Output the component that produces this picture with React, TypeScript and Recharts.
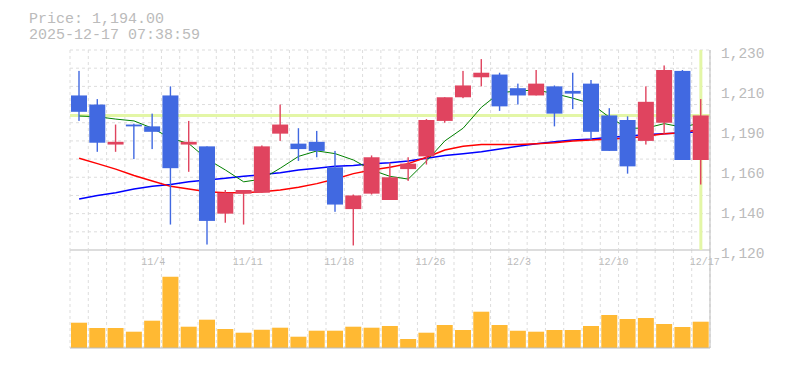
import React from "react";
import {
  Bar,
  BarChart,
  CartesianGrid,
  ComposedChart,
  Line,
  ReferenceLine,
  XAxis,
  YAxis,
} from "recharts";

const dates = [
  "10/28", "10/29", "10/30", "10/31", "11/4", "11/5", "11/6", "11/7", "11/10", "11/11",
  "11/12", "11/13", "11/14", "11/17", "11/18", "11/19", "11/20", "11/21", "11/25", "11/26",
  "11/27", "11/28", "12/1", "12/2", "12/3", "12/4", "12/5", "12/8", "12/9", "12/10",
  "12/11", "12/12", "12/15", "12/16", "12/17",
];
const opens = [
  1205, 1200, 1178, 1189, 1188, 1205, 1178, 1177, 1140, 1151,
  1151.5, 1184, 1178.5, 1179.5, 1165.5, 1142.5, 1151, 1147.5, 1164.5, 1171.5,
  1191, 1204, 1215, 1216.5, 1209, 1205, 1210, 1207.5, 1211.5, 1194,
  1191.5, 1180, 1190, 1218.5, 1169.5,
];
const highs = [
  1218.5, 1203, 1189, 1189.5, 1195, 1210, 1191, 1177, 1153, 1153,
  1177.5, 1200, 1187, 1185.5, 1174.5, 1150.5, 1172, 1168, 1171, 1192,
  1204, 1218.5, 1225, 1217.5, 1211.5, 1219, 1210.5, 1217.5, 1213.5, 1198,
  1193.5, 1210, 1221.5, 1219, 1203,
];
const lows = [
  1191, 1174, 1174, 1170, 1175.5, 1134, 1163, 1123, 1135, 1134,
  1151.5, 1180, 1169, 1171, 1141, 1122.5, 1150.5, 1147.5, 1158, 1167,
  1190, 1203.5, 1210, 1196.5, 1200, 1205, 1188, 1197.5, 1180.5, 1174.5,
  1162, 1178, 1184, 1169.5, 1156,
];
const closes = [
  1196, 1179, 1179.5, 1188, 1185, 1165, 1179.5, 1136, 1151.5, 1153,
  1177, 1189, 1175.5, 1174.5, 1145, 1150, 1171, 1160, 1167.5, 1191.5,
  1204, 1210.5, 1217.5, 1199, 1205, 1211.5, 1195, 1206, 1185, 1174.5,
  1166, 1201.5, 1219, 1169.5, 1194,
];
// moving averages (green = short, red = mid, blue = long)
const maShort = [
  1193.7, 1193.3, 1192, 1191, 1187, 1181.5, 1178.5, 1170, 1164, 1157.5,
  1159, 1165, 1171.5, 1174.5, 1173, 1169.5, 1164, 1160.5, 1159, 1169,
  1180, 1187, 1198.5, 1206.5, 1207.5, 1208, 1206, 1203.5, 1200.5, 1193,
  1187, 1187, 1189.5, 1187.5, 1190,
];
const maMid = [
  1170.5, 1167.5, 1164.5, 1161, 1158, 1155, 1153.5, 1152, 1151.5, 1151.5,
  1152, 1153, 1154.5, 1156.5, 1159, 1162, 1164, 1165.5, 1167.5, 1171,
  1175, 1177, 1178, 1178, 1178, 1178.5, 1179, 1180, 1180.5, 1181,
  1181.5, 1182.5, 1184, 1184.5, 1186.5,
];
const maLong = [
  1148, 1150, 1151.5, 1153.5, 1155, 1156, 1157.5, 1158.5, 1159.5, 1160.5,
  1161.5, 1162.5, 1164, 1165, 1166, 1166.5, 1167.5, 1168, 1169, 1170.5,
  1172, 1173, 1174, 1175.5, 1177, 1178.5, 1179.5, 1180.5, 1181, 1182,
  1182.5, 1183.5, 1184, 1184.5, 1185,
];
const volumes = [
  253, 200, 200, 163, 273, 713, 213, 283, 190, 153,
  183, 203, 113, 173, 173, 213, 203, 220, 90, 153,
  230, 180, 363, 230, 173, 163, 180, 180, 220, 330,
  290, 300, 240, 210, 263,
];
const labelDates = ["11/4", "11/11", "11/18", "11/26", "12/3", "12/10", "12/17"];
const priceTicks = [1120, 1142, 1164, 1186, 1208, 1230];
const lastPrice = 1194;
const lastDate = "12/17";
const stamp = "2025-12-17 07:38:59";

const RED = "#e0445f";
const BLUE = "#4169e1";
const GRID = "#dddddd";
const EDGE = "#bbbbbb";
const TEXT = "#bbbbbb";
const CROSS = "#e3f6a6";
const FONT = "'Liberation Mono', 'DejaVu Sans Mono', monospace";

const rows = dates.map((date, i) => ({
  date,
  open: opens[i],
  high: highs[i],
  low: lows[i],
  close: closes[i],
  range: [lows[i], highs[i]],
  maShort: maShort[i],
  maMid: maMid[i],
  maLong: maLong[i],
  volume: volumes[i],
}));

function Candle(props: any) {
  const { x, y, width, height, payload } = props;
  const { open, close, high, low } = payload;
  const color = close >= open ? RED : BLUE;
  const top = height < 0 ? y + height : y;
  const h = Math.abs(height);
  const ppu = h / (high - low);
  const bodyTop = top + (high - Math.max(open, close)) * ppu;
  const bodyH = Math.max(Math.abs(close - open) * ppu, 1.5);
  const cx = x + width / 2;
  return (
    <g>
      <rect x={cx - 0.7} y={top} width={1.4} height={h} fill={color} />
      <rect x={x} y={bodyTop} width={width} height={bodyH} fill={color} />
    </g>
  );
}

function DateTick({ x, payload }: any) {
  return (
    <text x={x - 11} y={22} dominantBaseline="middle" textAnchor="start" fill={TEXT} fontSize={10} fontFamily={FONT}>
      {payload.value}
    </text>
  );
}

// labels are the 22-yen ticks rounded to the nearest 10
const priceLabel = (v: number) => (Math.round(v / 10) * 10).toLocaleString("en-US");

// grid lines sit on the band edges, one per trading day
const bandEdges = ({ offset }: any) =>
  Array.from({ length: dates.length + 1 }, (_, k) => offset.left + (offset.width * k) / dates.length);
// horizontal grid every 10 yen
const priceSteps = ({ offset }: any) => {
  const n = (priceTicks[priceTicks.length - 1] - priceTicks[0]) / 10;
  return Array.from({ length: n + 1 }, (_, k) => offset.top + (offset.height * k) / n);
};

export default function App() {
  return (
    <div style={{ position: "absolute", left: 0, top: 0, width: 785, height: 370, background: "#fff" }}>
      <svg width={300} height={45} style={{ position: "absolute", left: 0, top: 0 }}>
        <text x={29} y={23} fill={TEXT} fontSize={15} fontFamily={FONT}>
          Price: {lastPrice.toLocaleString("en-US", { minimumFractionDigits: 2 })}
        </text>
        <text x={29} y={38.5} fill={TEXT} fontSize={15} fontFamily={FONT}>
          {stamp}
        </text>
      </svg>

      <div style={{ position: "absolute", left: 0, top: 240 }}>
        <BarChart width={785} height={110} data={rows} margin={{ top: 9, right: 0, bottom: 2, left: 70 }}>
          <CartesianGrid stroke={GRID} strokeDasharray="3 3" horizontal={false} verticalCoordinatesGenerator={bandEdges} />
          <XAxis
            dataKey="date"
            orientation="top"
            height={1}
            ticks={labelDates}
            interval={0}
            tickLine={false}
            axisLine={{ stroke: EDGE }}
            tick={<DateTick />}
          />
          <YAxis orientation="right" width={75} domain={[0, 980]} tick={false} tickLine={false} axisLine={{ stroke: EDGE }} />
          <ReferenceLine y={0} stroke={EDGE} />
          <Bar dataKey="volume" fill="#ffb933" barSize={16} isAnimationActive={false} />
        </BarChart>
      </div>

      <div style={{ position: "absolute", left: 0, top: 0 }}>
        <ComposedChart width={785} height={262} data={rows} margin={{ top: 50, right: 0, bottom: 12, left: 70 }}>
          <CartesianGrid
            stroke={GRID}
            strokeDasharray="3 3"
            verticalCoordinatesGenerator={bandEdges}
            horizontalCoordinatesGenerator={priceSteps}
          />
          <XAxis dataKey="date" hide />
          <YAxis
            orientation="right"
            width={75}
            domain={[priceTicks[0], priceTicks[priceTicks.length - 1]]}
            ticks={priceTicks}
            allowDataOverflow
            tickLine={false}
            tickSize={0}
            tickMargin={11}
            axisLine={{ stroke: EDGE }}
            tickFormatter={priceLabel}
            tick={{ fill: TEXT, fontSize: 14.5, fontFamily: FONT, dy: 3 }}
          />
          <ReferenceLine y={lastPrice} stroke={CROSS} strokeWidth={3} zIndex={50} />
          <ReferenceLine x={lastDate} stroke={CROSS} strokeWidth={3} zIndex={50} />
          <Line dataKey="maLong" stroke="#0000ff" strokeWidth={1.5} dot={false} isAnimationActive={false} zIndex={400} />
          <Line dataKey="maMid" stroke="#ff0000" strokeWidth={1.5} dot={false} isAnimationActive={false} zIndex={400} />
          <Line dataKey="maShort" stroke="#008000" strokeWidth={1} dot={false} isAnimationActive={false} zIndex={400} />
          <Bar dataKey="range" barSize={16} shape={<Candle />} isAnimationActive={false} zIndex={450} />
        </ComposedChart>
      </div>
    </div>
  );
}
